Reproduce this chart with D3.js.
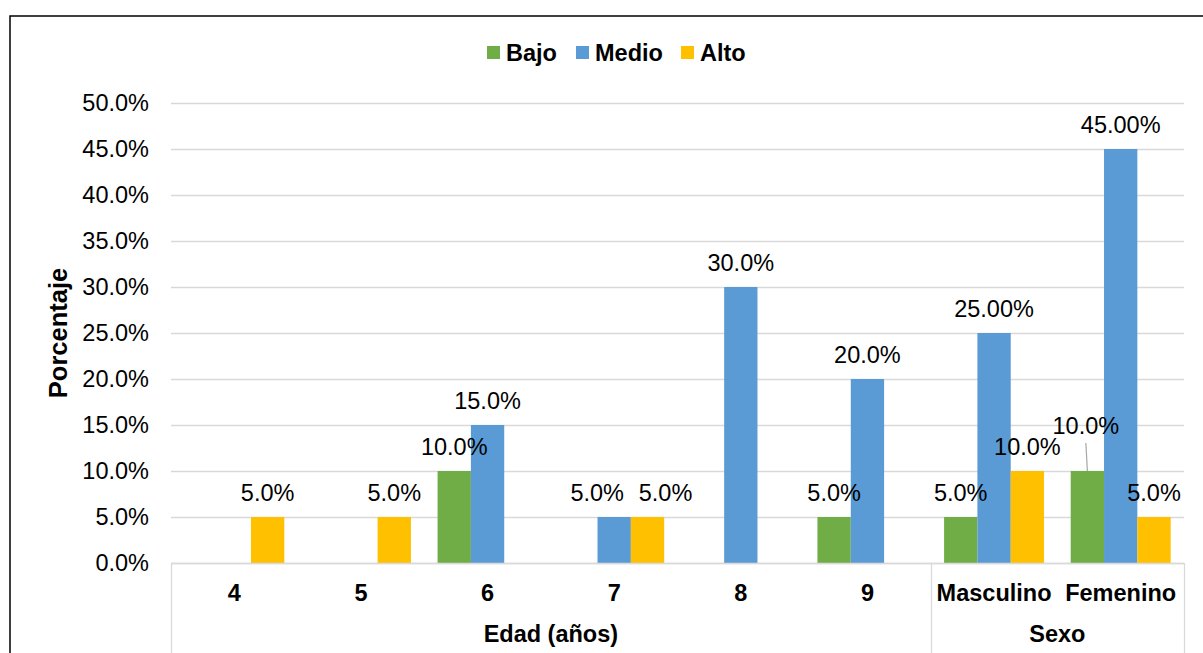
<!DOCTYPE html>
<html>
<head>
<meta charset="utf-8">
<script src="https://cdn.jsdelivr.net/npm/d3@7"></script>
<style>
  html, body { margin: 0; padding: 0; background: #fff; }
  svg { display: block; font-family: "Liberation Sans", Arial, sans-serif; }
</style>
</head>
<body>
<svg id="chart" width="1203" height="653"></svg>
<script>
// Categories (level 1) and their parent groups (level 2)
const categories = ["4", "5", "6", "7", "8", "9", "Masculino", "Femenino"];
const groups = [
  { name: "Edad (años)", members: ["4", "5", "6", "7", "8", "9"] },
  { name: "Sexo", members: ["Masculino", "Femenino"] }
];

// Series values (fraction of respondents); null = no bar
const seriesNames = ["Bajo", "Medio", "Alto"];
const bajo  = [null, null, 0.10, null, null, 0.05, 0.05, 0.10];
const medio = [null, null, 0.15, 0.05, 0.30, 0.20, 0.25, 0.45];
const alto  = [0.05, 0.05, null, 0.05, null, null, 0.10, 0.05];

// Decimal places used in each series' data labels, per category
const bajoDecimals  = [1, 1, 1, 1, 1, 1, 1, 1];
const medioDecimals = [1, 1, 1, 1, 1, 1, 2, 2];
const altoDecimals  = [1, 1, 1, 1, 1, 1, 1, 1];

// Y axis ticks
const yTicks = [0, 0.05, 0.10, 0.15, 0.20, 0.25, 0.30, 0.35, 0.40, 0.45, 0.50];

const colors = { Bajo: "#70AD47", Medio: "#5B9BD5", Alto: "#FFC000" };
const seriesValues = { Bajo: bajo, Medio: medio, Alto: alto };
const seriesDecimals = { Bajo: bajoDecimals, Medio: medioDecimals, Alto: altoDecimals };

const svg = d3.select("#chart");
const FONT = 23.5;

// Plot area
const plot = { left: 171, right: 1184, top: 103, bottom: 563 };

// Outer chart frame
svg.append("rect")
  .attr("x", 10).attr("y", 16)
  .attr("width", 1230).attr("height", 700)
  .attr("fill", "none").attr("stroke", "#000").attr("stroke-width", 1.5);

const y = d3.scaleLinear().domain([0, 0.5]).range([plot.bottom, plot.top]);
const x0 = d3.scaleBand().domain(categories).range([plot.left, plot.right]).padding(0);
const x1 = d3.scaleBand().domain(seriesNames).range([0, x0.bandwidth()])
  .paddingInner(0).paddingOuter(0.4);

// Gridlines
svg.append("g").selectAll("line")
  .data(yTicks)
  .join("line")
  .attr("x1", plot.left).attr("x2", plot.right)
  .attr("y1", d => Math.round(y(d)) + 0.5).attr("y2", d => Math.round(y(d)) + 0.5)
  .attr("stroke", "#D9D9D9").attr("stroke-width", 1.3);

// Y tick labels
const pct1 = d3.format(".1%");
svg.append("g").selectAll("text")
  .data(yTicks)
  .join("text")
  .attr("x", 149)
  .attr("y", d => y(d))
  .attr("dy", "0.36em")
  .attr("text-anchor", "end")
  .attr("font-size", FONT)
  .attr("fill", "#000")
  .text(d => pct1(d));

// Y axis title
svg.append("text")
  .attr("transform", `translate(${66.5},${(plot.top + plot.bottom) / 2}) rotate(-90)`)
  .attr("text-anchor", "middle")
  .attr("font-size", 25.5)
  .attr("font-weight", "bold")
  .attr("fill", "#000")
  .text("Porcentaje");

// Bars
const barData = [];
categories.forEach((c, i) => {
  seriesNames.forEach(s => {
    const v = seriesValues[s][i];
    if (v != null) barData.push({ cat: c, series: s, value: v, decimals: seriesDecimals[s][i] });
  });
});

svg.append("g").selectAll("rect")
  .data(barData)
  .join("rect")
  .attr("x", d => x0(d.cat) + x1(d.series))
  .attr("y", d => y(d.value))
  .attr("width", x1.bandwidth())
  .attr("height", d => y(0) - y(d.value))
  .attr("fill", d => colors[d.series]);

// Category axis line and group separators
svg.append("line")
  .attr("x1", plot.left).attr("x2", plot.right)
  .attr("y1", plot.bottom + 0.5).attr("y2", plot.bottom + 0.5)
  .attr("stroke", "#D9D9D9").attr("stroke-width", 1.3);

const groupEdges = [plot.left];
groups.forEach(g => {
  const last = g.members[g.members.length - 1];
  groupEdges.push(x0(last) + x0.bandwidth());
});
svg.append("g").selectAll("line")
  .data(groupEdges)
  .join("line")
  .attr("x1", d => Math.round(d) + 0.5).attr("x2", d => Math.round(d) + 0.5)
  .attr("y1", plot.bottom).attr("y2", 660)
  .attr("stroke", "#D9D9D9").attr("stroke-width", 1.3);

// Level 1 category labels
svg.append("g").selectAll("text")
  .data(categories)
  .join("text")
  .attr("x", d => x0(d) + x0.bandwidth() / 2)
  .attr("y", 593)
  .attr("dy", "0.36em")
  .attr("text-anchor", "middle")
  .attr("font-size", FONT)
  .attr("font-weight", "bold")
  .attr("fill", "#000")
  .text(d => d);

// Level 2 group labels
svg.append("g").selectAll("text")
  .data(groups)
  .join("text")
  .attr("x", g => {
    const a = x0(g.members[0]);
    const b = x0(g.members[g.members.length - 1]) + x0.bandwidth();
    return (a + b) / 2;
  })
  .attr("y", 634)
  .attr("dy", "0.36em")
  .attr("text-anchor", "middle")
  .attr("font-size", FONT)
  .attr("font-weight", "bold")
  .attr("fill", "#000")
  .text(g => g.name);

// Data labels; a few are nudged so neighbouring labels don't collide
const labelShift = {
  "7|Medio": { dx: -17, dy: 0 },
  "7|Alto": { dx: 18, dy: 0 },
  "Femenino|Bajo": { dx: -1.5, dy: -21, leader: true }
};

const labels = svg.append("g");
barData.forEach(d => {
  const cx = x0(d.cat) + x1(d.series) + x1.bandwidth() / 2;
  const top = y(d.value);
  const sh = labelShift[d.cat + "|" + d.series] || { dx: 0, dy: 0 };
  const lx = cx + sh.dx;
  const ly = top - 24 + sh.dy;
  if (sh.leader) {
    labels.append("line")
      .attr("x1", lx).attr("y1", ly + 17)
      .attr("x2", cx).attr("y2", top)
      .attr("stroke", "#A6A6A6").attr("stroke-width", 1.2);
  }
  labels.append("text")
    .attr("x", lx)
    .attr("y", ly)
    .attr("dy", "0.36em")
    .attr("text-anchor", "middle")
    .attr("font-size", FONT)
    .attr("fill", "#000")
    .text(d3.format("." + d.decimals + "%")(d.value));
});

// Legend
const legendItems = [
  { name: "Bajo", x: 487 },
  { name: "Medio", x: 576 },
  { name: "Alto", x: 681 }
];
const legend = svg.append("g");
legendItems.forEach(it => {
  legend.append("rect")
    .attr("x", it.x).attr("y", 46)
    .attr("width", 13).attr("height", 13)
    .attr("fill", colors[it.name]);
  legend.append("text")
    .attr("x", it.x + 19)
    .attr("y", 52.5)
    .attr("dy", "0.36em")
    .attr("font-size", FONT)
    .attr("font-weight", "bold")
    .attr("fill", "#000")
    .text(it.name);
});
</script>
</body>
</html>
